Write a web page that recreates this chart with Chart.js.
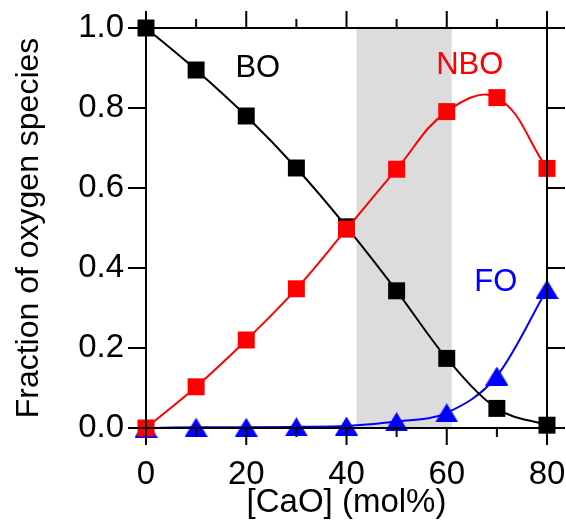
<!DOCTYPE html>
<html>
<head>
<meta charset="utf-8">
<script src="https://cdn.jsdelivr.net/npm/chart.js@4"></script>
<style>
  html, body { margin: 0; padding: 0; background: #fff; }
  #wrap { width: 566px; height: 521px; }
</style>
</head>
<body>
<div id="wrap"><canvas id="chart" width="566" height="521"></canvas></div>
<script>
// [CaO] (mol%)
var cao = [0, 10, 20, 30, 40, 50, 60, 70, 80];
// fraction of each oxygen species
var bo  = [1.0, 0.895, 0.78, 0.65, 0.503, 0.343, 0.174, 0.049, 0.007];
var nbo = [0.0, 0.103, 0.22, 0.348, 0.497, 0.647, 0.791, 0.826, 0.649];
var fo  = [0.0, 0.002, 0.002, 0.003, 0.005, 0.016, 0.038, 0.13, 0.347];

// grey band (in mol% CaO)
var shadeRange = [42, 61];

var xMajor = [0, 20, 40, 60, 80];
var xMinor = [10, 30, 50, 70];
var yMajor = [0, 0.2, 0.4, 0.6, 0.8, 1.0];

// species names written inside the plot, placed in data units
var speciesNames = ['BO', 'NBO', 'FO'];
var nameX = [22.3, 64.6, 69.8];
var nameY = [0.90, 0.9075, 0.365];
var nameColors = ['#000000', '#ff0000', '#0000ff'];

var FONT = '"Liberation Sans", Arial, Helvetica, sans-serif';
Chart.defaults.font.family = FONT;
Chart.defaults.color = '#000';

function pts(ys) {
  return cao.map(function (x, i) { return {x: x, y: ys[i]}; });
}

// triangle marker centred on its bounding box
function makeTriangle(w, h, color) {
  var c = document.createElement('canvas');
  c.width = w; c.height = h;
  var g = c.getContext('2d');
  g.fillStyle = color;
  g.beginPath();
  g.moveTo(w / 2, 0);
  g.lineTo(w, h);
  g.lineTo(0, h);
  g.closePath();
  g.fill();
  return c;
}

var framePlugin = {
  id: 'frame',
  beforeDatasetsDraw: function (chart) {
    var ctx = chart.ctx, a = chart.chartArea, xs = chart.scales.x;
    var x0 = xs.getPixelForValue(shadeRange[0]);
    var x1 = xs.getPixelForValue(shadeRange[1]);
    ctx.save();
    ctx.fillStyle = '#dcdcdc';
    ctx.fillRect(x0, a.top, x1 - x0, a.bottom - a.top);
    ctx.restore();
  },
  afterDatasetsDraw: function (chart) {
    var ctx = chart.ctx, a = chart.chartArea;
    var xs = chart.scales.x, ys = chart.scales.y;
    ctx.save();
    ctx.strokeStyle = '#000';
    ctx.lineWidth = 2;
    ctx.strokeRect(a.left, a.top, a.right - a.left, a.bottom - a.top);
    ctx.beginPath();
    xMajor.forEach(function (v) {
      var p = xs.getPixelForValue(v);
      ctx.moveTo(p, a.bottom); ctx.lineTo(p, a.bottom + 17);
      ctx.moveTo(p, a.top); ctx.lineTo(p, a.top - 17);
    });
    xMinor.forEach(function (v) {
      var p = xs.getPixelForValue(v);
      ctx.moveTo(p, a.bottom); ctx.lineTo(p, a.bottom + 9);
      ctx.moveTo(p, a.top); ctx.lineTo(p, a.top - 9);
    });
    yMajor.forEach(function (v) {
      var p = ys.getPixelForValue(v);
      ctx.moveTo(a.left, p); ctx.lineTo(a.left - 18, p);
      ctx.moveTo(a.right, p); ctx.lineTo(a.right + 18, p);
    });
    ctx.stroke();

    ctx.font = '31px ' + FONT;
    ctx.textAlign = 'center';
    ctx.textBaseline = 'middle';
    speciesNames.forEach(function (t, i) {
      ctx.fillStyle = nameColors[i];
      ctx.fillText(t, xs.getPixelForValue(nameX[i]), ys.getPixelForValue(nameY[i]));
    });
    ctx.restore();
  }
};

var ctx = document.getElementById('chart').getContext('2d');
var chart = new Chart(ctx, {
  type: 'line',
  data: {
    datasets: [{
      label: 'NBO',
      data: pts(nbo),
      borderColor: '#ff0000',
      backgroundColor: '#ff0000',
      borderWidth: 2,
      tension: 0.4,
      pointStyle: 'rect',
      pointRadius: 12,
      pointBorderWidth: 0,
      clip: false
    }, {
      label: 'BO',
      data: pts(bo),
      borderColor: '#000000',
      backgroundColor: '#000000',
      borderWidth: 2,
      cubicInterpolationMode: 'monotone',
      pointStyle: 'rect',
      pointRadius: 12,
      pointBorderWidth: 0,
      clip: false
    }, {
      label: 'FO',
      data: pts(fo),
      borderColor: '#0000ff',
      backgroundColor: '#0000ff',
      borderWidth: 2,
      cubicInterpolationMode: 'monotone',
      pointStyle: makeTriangle(23, 19, '#0000ff'),
      pointRadius: 11,
      pointBorderWidth: 0,
      clip: false
    }]
  },
  options: {
    responsive: false,
    animation: false,
    events: [],
    layout: { padding: { top: 28, right: 19, left: 0, bottom: 0 } },
    plugins: { legend: { display: false }, tooltip: { enabled: false } },
    scales: {
      x: {
        type: 'linear',
        min: 0, max: 80,
        grid: { display: true, drawOnChartArea: false, drawTicks: true, tickLength: 27, tickColor: 'rgba(0,0,0,0)' },
        border: { display: false },
        ticks: { stepSize: 20, padding: 0, maxRotation: 0, autoSkip: false, font: { size: 33 }, color: '#000' },
        title: { display: true, text: '[CaO] (mol%)', font: { size: 33 }, color: '#000', padding: { top: 0, bottom: -2 } },
        afterFit: function (s) { s.height = 93; s.paddingLeft = 0; s.paddingRight = 0; }
      },
      y: {
        min: 0, max: 1,
        grid: { display: true, drawOnChartArea: false, drawTicks: true, tickLength: 22, tickColor: 'rgba(0,0,0,0)' },
        border: { display: false },
        ticks: {
          stepSize: 0.2, padding: 0, font: { size: 33 }, color: '#000',
          callback: function (v) { return Number(v).toFixed(1); }
        },
        title: { display: true, text: 'Fraction of oxygen species', font: { size: 32 }, color: '#000', padding: { top: 10, bottom: 0 } },
        afterFit: function (s) { s.width = 146; s.paddingTop = 0; s.paddingBottom = 0; }
      }
    }
  },
  plugins: [framePlugin]
});
</script>
</body>
</html>
